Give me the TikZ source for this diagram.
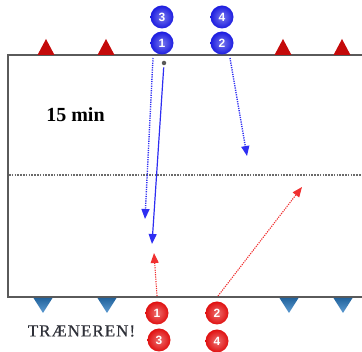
\documentclass[tikz,border=0pt]{standalone}
\usepackage{fontspec}
\setmainfont{Liberation Serif}
\setsansfont{Liberation Sans}
\usetikzlibrary{arrows.meta,shapes.geometric}
\definecolor{pitch}{HTML}{5A5A5A}
\definecolor{runblue}{HTML}{2E2EF2}
\definecolor{runred}{HTML}{F03030}
\definecolor{shirtblue}{HTML}{1C1CE0}
\definecolor{shirtred}{HTML}{E01010}
\definecolor{conered}{HTML}{C40A0A}
\definecolor{coneblue}{HTML}{2A7CC4}
\definecolor{ink}{HTML}{2E3038}

\begin{document}
\begin{tikzpicture}[x=1pt, y=-1pt,
    pitchline/.style={line width=1.4pt, draw=pitch},
    midline/.style={line width=1.3pt, draw=pitch!90, dash pattern=on 1.6pt off 1.2pt},
    player/.style={circle, minimum size=23pt, inner sep=0pt, text=white,
      font=\sffamily\bfseries\fontsize{12}{12}\selectfont},
    blueplayer/.style={player, inner color=shirtblue!60!white, outer color=shirtblue},
    redplayer/.style={player, inner color=shirtred!60!white, outer color=shirtred},
    run/.style={line width=1.4pt, dash pattern=on 1.2pt off 1.1pt, -{Triangle[length=10pt,width=8pt]}},
    pass/.style={line width=1.2pt, draw=runblue, -{Triangle[length=10pt,width=8pt]}}]
  \useasboundingbox (0,0) rectangle (362,352);

  \draw[pitchline] (362,55) -- (8,55) -- (8,297) -- (362,297);
  \draw[midline] (9,175) -- (362,175);

  \foreach \cx in {46,106,283,342}
    \fill[conered] (\cx,39) -- (\cx+8.5,55) -- (\cx-8.5,55) -- cycle;
  \foreach \cx in {43,107,289,343}
    \shade[top color=coneblue!80!black, bottom color=coneblue!75!white]
      (\cx-9.5,298) -- (\cx+9.5,298) -- (\cx,313) -- cycle;

  \node[blueplayer] (b3) at (162,17) {3};
  \node[blueplayer] (b1) at (162,43) {1};
  \node[blueplayer] (b4) at (222,17) {4};
  \node[blueplayer] (b2) at (222,43) {2};

  \node[redplayer] (r1) at (157,313) {1};
  \node[redplayer] (r2) at (217,313) {2};
  \node[redplayer] (r3) at (159,340) {3};
  \node[redplayer] (r4) at (217,341) {4};

  \node[circle, fill=gray!70!black, minimum size=4.5pt, inner sep=0pt] (ball) at (164,63) {};

  \node[font=\bfseries\fontsize{20}{20}\selectfont] (time) at (75.5,115) {15 min};
  \node[text=ink, font=\fontsize{17}{17}\selectfont\addfontfeature{LetterSpace=6,FakeBold=0.6}] (coach) at (81.5,331) {TRÆNEREN!};

  \coordinate (b1run) at (153,58);
  \coordinate (b1end) at (145,219);
  \coordinate (b2run) at (230,58);
  \coordinate (b2end) at (247,156);
  \coordinate (passend) at (152,244);
  \coordinate (r1run) at (157,296);
  \coordinate (r1end) at (154,253);
  \coordinate (r2run) at (218,296);
  \coordinate (r2end) at (302,187);

  \draw[run, draw=runblue] (b1run) -- (b1end);
  \draw[run, draw=runblue] (b2run) -- (b2end);
  \draw[pass, shorten <=2pt] (ball) -- (passend);
  \draw[run, draw=runred, line width=1.1pt] (r1run) -- (r1end);
  \draw[run, draw=runred, line width=1.1pt] (r2run) -- (r2end);
\end{tikzpicture}
\end{document}
